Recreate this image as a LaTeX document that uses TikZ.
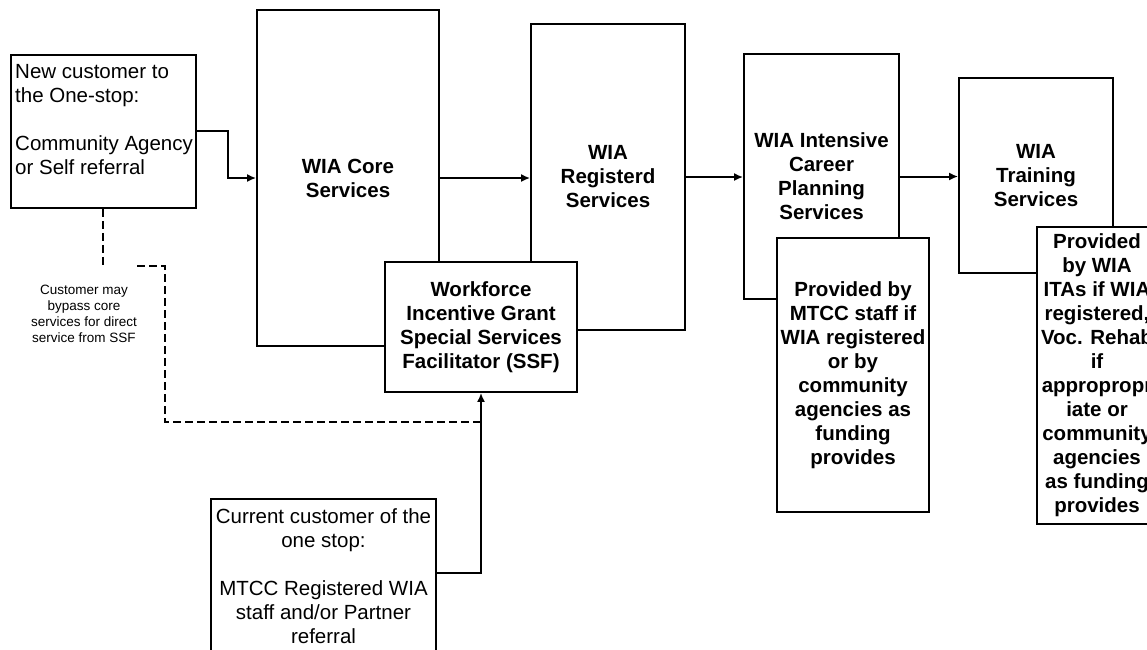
\documentclass[tikz,border=0pt]{standalone}
\usepackage{fontspec}
\setmainfont{Liberation Sans}
\usetikzlibrary{arrows.meta,positioning}

\newcommand{\boxfont}{\fontsize{20.5}{24}\selectfont}
\newcommand{\notefont}{\fontsize{13.5}{16}\selectfont}

\tikzset{
  plainbox/.style={draw,fill=white,line width=1.8pt,inner sep=0pt},
  svcbox/.style={plainbox,align=center,font=\boxfont\bfseries},
  txt/.style={inner sep=0pt,font=\boxfont},
  flow/.style={->,line width=2pt},
  bypass/.style={line width=2pt,dash pattern=on 8pt off 4pt},
}

\begin{document}
\begin{tikzpicture}[x=1pt,y=-1pt,>={Latex[length=9pt,width=8pt]},line join=miter]
\useasboundingbox (0,0) rectangle (1147,649);

% Node: new customer
\node[plainbox,minimum width=185,minimum height=153,anchor=north west] (newc) at (10,54) {};
\node[txt,align=left,anchor=north west] (newctext) at ([shift={(5,10)}]newc.north west)
  {New customer to\\the One-stop:\\[24pt]Community Agency\\or Self referral};

% Nodes: service boxes
\node[svcbox,minimum width=182,minimum height=336] (core) at (348,178) {WIA Core\\Services};
\node[svcbox,minimum width=154,minimum height=306] (reg) at (608,177) {WIA\\Registerd\\Services};
\node[svcbox,minimum width=192,minimum height=130] (ssf) at (481,327)
  {Workforce\\Incentive Grant\\Special Services\\Facilitator (SSF)};
\node[svcbox,minimum width=155,minimum height=245] (int) at (821.5,176.5)
  {WIA Intensive\\Career\\Planning\\Services};
\node[svcbox,minimum width=152,minimum height=274] (mtcc) at (853,375)
  {Provided by\\MTCC staff if\\WIA registered\\or by\\community\\agencies as\\funding\\provides};
\node[svcbox,minimum width=154,minimum height=195] (train) at (1036,175.5) {WIA\\Training\\Services};
\node[svcbox,minimum width=120,minimum height=297] (ita) at (1097,375.5)
  {Provided\\by WIA\\ITAs if WIA\\registered,\\Voc. Rehab\\if\\appropropr\\iate or\\community\\agencies\\as funding\\provides};

% Node: current customer
\node[plainbox,minimum width=225,minimum height=180,anchor=north] (cur) at (323.5,498) {};
\node[txt,align=center,anchor=north] (curtext) at ([yshift=-10pt]cur.north)
  {Current customer of the\\one stop:\\[24pt]MTCC Registered WIA\\staff and/or Partner\\referral};

% Node: bypass note
\node[inner xsep=0pt,inner ysep=19pt,align=center,font=\notefont,anchor=north] (note) at (84,266)
  {Customer may\\bypass core\\services for direct\\service from SSF};

% Edges
\draw[flow] (newc.east) -- ++(31,0) |- (core.west);
\draw[flow] (core.east) -- (core.east -| reg.west);
\draw[flow] (reg.east) -- (reg.east -| int.west);
\draw[flow] (int.east) -- (int.east -| train.west);
\draw[flow] (cur.east |- 0,573) -| (ssf.south);

% Edge: bypass (dashed)
\coordinate (bend) at (165,422);
\draw[bypass] (newc.south) -- (newc.south |- note.north);
\draw[bypass] (note.north east) -| (bend) -- (bend -| ssf.south);
\end{tikzpicture}
\end{document}
